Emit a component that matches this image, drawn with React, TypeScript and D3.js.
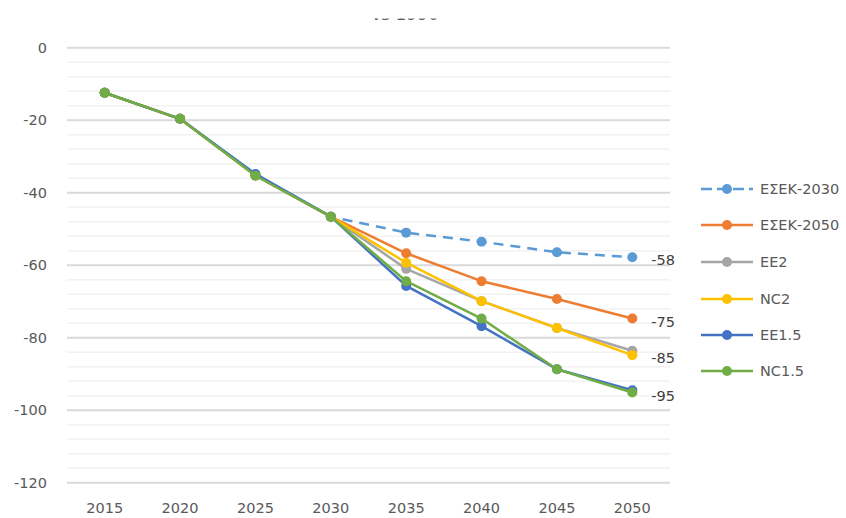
import React from "react";
import * as d3 from "d3";

const years = ["2015", "2020", "2025", "2030", "2035", "2040", "2045", "2050"];
const yTicks = [0, -20, -40, -60, -80, -100, -120];
const seriesNames = ["ΕΣΕΚ-2030", "ΕΣΕΚ-2050", "EE2", "NC2", "EE1.5", "NC1.5"];
const esek2030 = [-12.4, -19.6, -35.2, -46.6, -51.0, -53.5, -56.4, -57.8];
const esek2050 = [-12.4, -19.6, -35.2, -46.6, -56.7, -64.4, -69.3, -74.7];
const ee2 = [-12.4, -19.6, -35.2, -46.6, -61.0, -69.9, -77.3, -83.6];
const nc2 = [-12.4, -19.6, -35.2, -46.6, -59.3, -69.9, -77.3, -84.8];
const ee15 = [-12.4, -19.6, -34.8, -46.6, -65.7, -76.8, -88.7, -94.5];
const nc15 = [-12.4, -19.6, -35.3, -46.6, -64.4, -74.7, -88.7, -95.1];
const endLabels = ["-58", "-75", null, "-85", null, "-95"];

const colors = ["#5B9BD5", "#ED7D31", "#A5A5A5", "#FFC000", "#4472C4", "#70AD47"];
const allSeries = [esek2030, esek2050, ee2, nc2, ee15, nc15];

export default function App() {
  const W = 846, H = 518;
  const left = 67, right = 670, top = 47.8, bottom = 482.7;
  const x = d3.scalePoint<string>().domain(years).range([left, right]).padding(0.5);
  const y = d3.scaleLinear().domain([-120, 0]).range([bottom, top]);
  const minor = d3.range(-120, 0.001, 4);
  const line = d3.line<number>().x((_, i) => x(years[i]) as number).y((d) => y(d));
  const font = "'DejaVu Sans', 'Noto Sans', sans-serif";
  const legendY = [189, 225, 262, 299, 335, 371];
  const fs = 14.5;

  return (
    <svg width={W} height={H} style={{ position: "fixed", left: 0, top: 0, background: "#fff" }} fontFamily={font}>
      <defs>
        <clipPath id="tclip">
          <rect x={0} y={18.6} width={W} height={6} />
        </clipPath>
      </defs>
      <text x={405} y={20.2} textAnchor="middle" fontSize={17} fill="#595959" clipPath="url(#tclip)">vs 1990</text>
      {minor.map((v) => (
        <line key={"m" + v} x1={left} x2={right} y1={y(v)} y2={y(v)}
          stroke={v % 20 === 0 ? "#d9d9d9" : "#f2f2f2"} strokeWidth={v % 20 === 0 ? 2 : 1.5} />
      ))}
      {yTicks.map((v) => (
        <text key={"yt" + v} x={47} y={y(v)} dy="0.35em" textAnchor="end" fontSize={fs} fill="#595959">{v}</text>
      ))}
      {years.map((yr) => (
        <text key={"xt" + yr} x={x(yr)} y={508} dy="0.35em" textAnchor="middle" fontSize={fs} fill="#595959">{yr}</text>
      ))}
      {allSeries.map((s, si) => (
        <g key={"s" + si}>
          <path d={line(s) as string} fill="none" stroke={colors[si]} strokeWidth={2.5}
            strokeDasharray={si === 0 ? "10,7" : undefined} strokeLinejoin="round" />
          {s.map((v, i) => (
            <circle key={i} cx={x(years[i])} cy={y(v)} r={5} fill={colors[si]} />
          ))}
        </g>
      ))}
      {allSeries.map((s, si) =>
        endLabels[si] ? (
          <text key={"l" + si} x={(x(years[7]) as number) + 19} y={y(s[7]) + 3} dy="0.35em"
            fontSize={fs} fill="#404040">{endLabels[si]}</text>
        ) : null
      )}
      {seriesNames.map((n, i) => (
        <g key={"lg" + i}>
          <line x1={701} x2={753} y1={legendY[i]} y2={legendY[i]} stroke={colors[i]} strokeWidth={2.5}
            strokeDasharray={i === 0 ? "11,5" : undefined} />
          <circle cx={727} cy={legendY[i]} r={5} fill={colors[i]} />
          <text x={760} y={legendY[i]} dy="0.35em" fontSize={fs} fill="#595959">{n}</text>
        </g>
      ))}
    </svg>
  );
}
